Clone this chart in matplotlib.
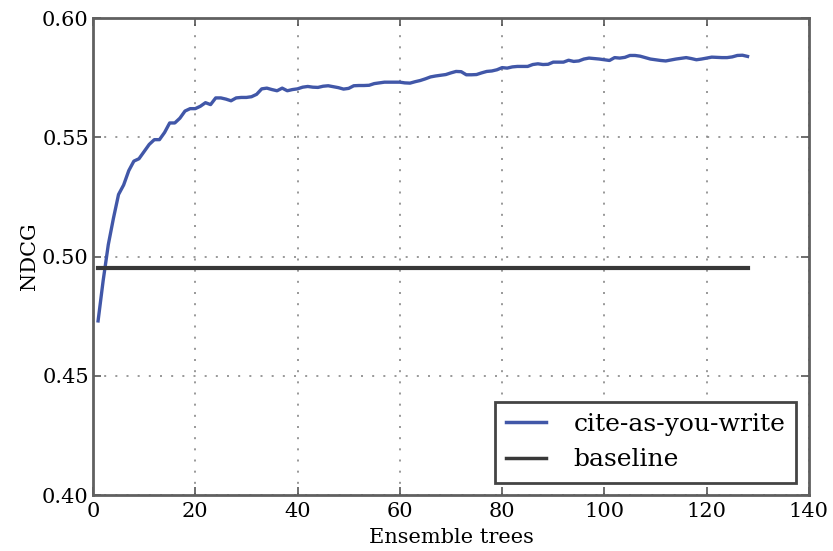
"""
plot.py - NDCG vs ensemble trees (cite-as-you-write vs baseline)
"""

import matplotlib
matplotlib.use('Agg')
import matplotlib.pyplot as plt

trees = list(range(1, 129))
ndcg_caw = [
    0.473, 0.490, 0.505, 0.516, 0.526, 0.530, 0.536, 0.540, 0.541, 0.544,
    0.547, 0.549, 0.549, 0.552, 0.556, 0.556, 0.558, 0.561, 0.562, 0.562,
    0.563, 0.5645, 0.5637, 0.5665, 0.5665, 0.566, 0.5653, 0.5665, 0.5667, 0.5667,
    0.567, 0.568, 0.5703, 0.5706, 0.570, 0.5695, 0.5706, 0.5695, 0.570, 0.5703,
    0.571, 0.5713, 0.571, 0.5709, 0.5714, 0.5716, 0.5712, 0.5708, 0.5702, 0.5705,
    0.5716, 0.5717, 0.5717, 0.5718, 0.5725, 0.5728, 0.5731, 0.5731, 0.5731, 0.5731,
    0.5728, 0.5727, 0.5733, 0.5738, 0.5745, 0.5753, 0.5757, 0.576, 0.5763, 0.577,
    0.5776, 0.5775, 0.5762, 0.5762, 0.5763, 0.577, 0.5776, 0.5778, 0.5783, 0.5792,
    0.579, 0.5795, 0.5797, 0.5797, 0.5797, 0.5805, 0.5808, 0.5805, 0.5806, 0.5815,
    0.5815, 0.5815, 0.5823, 0.5818, 0.582, 0.5828, 0.5832, 0.583, 0.5828, 0.5825,
    0.5822, 0.5834, 0.5832, 0.5835, 0.5843, 0.5843, 0.584, 0.5834, 0.5828, 0.5825,
    0.5822, 0.582, 0.5824, 0.5828, 0.5831, 0.5834, 0.583, 0.5825, 0.5828, 0.5832,
    0.5836, 0.5835, 0.5834, 0.5834, 0.5837, 0.5843, 0.5844, 0.5839,
]
baseline_value = 0.495
x_ticks = [0, 20, 40, 60, 80, 100, 120, 140]
y_ticks = [0.40, 0.45, 0.50, 0.55, 0.60]

plt.rcParams['font.family'] = ['DejaVu Serif']

figure = plt.figure(figsize=(8.33, 5.51), dpi=100)
axis = figure.add_axes([0.1116, 0.1016, 0.8595, 0.8657])

axis.plot(trees, ndcg_caw, color='#4157a8', linewidth=2.4, label='cite-as-you-write')
axis.plot([trees[0], trees[-1]], [baseline_value, baseline_value], color='#383838',
          linewidth=3, label='baseline')

axis.set_xlim(0, 140)
axis.set_ylim(0.40, 0.60)
axis.set_xticks(x_ticks)
axis.set_yticks(y_ticks)
axis.set_yticklabels([f'{v:.2f}' for v in y_ticks])
axis.tick_params(direction='in', length=6, width=1.2, color='#555555',
                 labelsize=15, top=True, right=True)
axis.tick_params(axis='x', pad=5)
axis.tick_params(axis='y', pad=3)
axis.grid(True, color='#888888', linewidth=1.2, linestyle=(0, (1.2, 5.5)))
for spine in axis.spines.values():
    spine.set_linewidth(2)
    spine.set_color('#606060')

axis.set_xlabel('Ensemble trees', fontsize=15, labelpad=5)
axis.set_ylabel('NDCG', fontsize=15, labelpad=2)

legend = axis.legend(loc='lower right', fontsize=18, fancybox=False, framealpha=1,
                     borderaxespad=0.5, borderpad=0.45, handlelength=1.6,
                     handletextpad=1.1, labelspacing=0.5)
legend.get_frame().set_edgecolor('#444444')
legend.get_frame().set_linewidth(2)
for handle in legend.get_lines():
    handle.set_linewidth(2.5)

plt.savefig('out.png', dpi=100)
plt.close(figure)
